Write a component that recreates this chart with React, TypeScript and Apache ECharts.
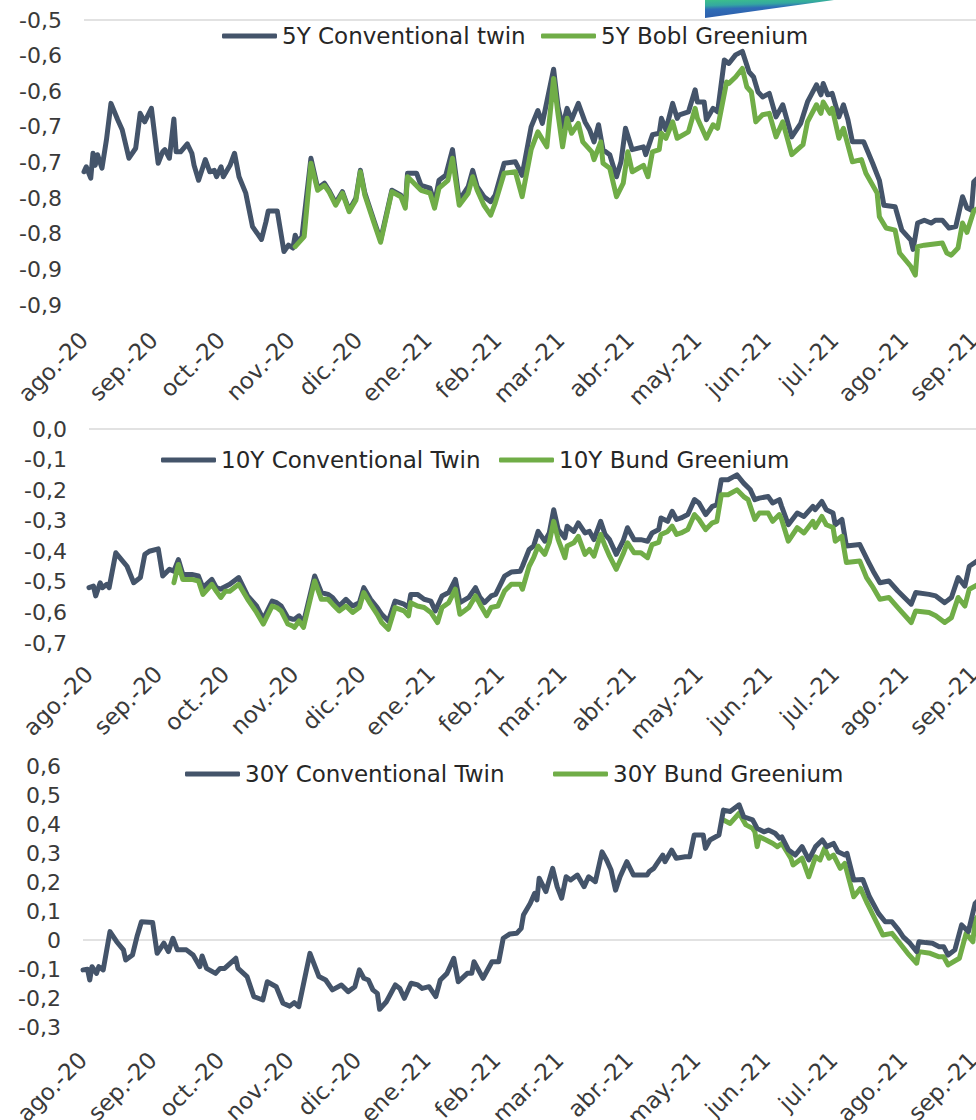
import { useEffect, useRef } from "react";
import * as echarts from "echarts";

// x = days since 1 Aug 2020
const monthStarts = [0, 31, 61, 92, 122, 153, 184, 212, 243, 273, 304, 334, 365, 396];
const monthLabels = ["ago.-20", "sep.-20", "oct.-20", "nov.-20", "dic.-20", "ene.-21", "feb.-21", "mar.-21", "abr.-21", "may.-21", "jun.-21", "jul.-21", "ago.-21", "sep.-21"];

const yLabels5 = ["-0,9", "-0,9", "-0,8", "-0,8", "-0,7", "-0,7", "-0,6", "-0,6", "-0,5"];
const yLabels10 = ["-0,7", "-0,6", "-0,5", "-0,4", "-0,3", "-0,2", "-0,1", "0,0"];
const yLabels30 = ["-0,3", "-0,2", "-0,1", "0", "0,1", "0,2", "0,3", "0,4", "0,5", "0,6"];

const conv5: [number, number][] = [[0,-0.713],[1,-0.706],[3,-0.722],[4,-0.687],[5,-0.704],[6,-0.689],[8,-0.708],[10,-0.668],[12,-0.617],[15,-0.640],[17,-0.654],[20,-0.694],[23,-0.680],[25,-0.631],[27,-0.643],[30,-0.624],[33,-0.701],[35,-0.685],[36,-0.682],[38,-0.694],[40,-0.639],[41,-0.685],[43,-0.685],[46,-0.674],[48,-0.687],[49,-0.704],[51,-0.725],[54,-0.696],[56,-0.713],[58,-0.711],[59,-0.720],[61,-0.706],[62,-0.720],[65,-0.704],[67,-0.687],[69,-0.720],[72,-0.743],[75,-0.790],[79,-0.808],[81,-0.783],[82,-0.768],[86,-0.768],[89,-0.825],[91,-0.816],[93,-0.820],[94,-0.802],[95,-0.811],[97,-0.804],[101,-0.694],[104,-0.736],[107,-0.729],[109,-0.739],[112,-0.757],[115,-0.741],[118,-0.767],[121,-0.750],[123,-0.711],[125,-0.743],[129,-0.781],[132,-0.809],[137,-0.739],[141,-0.746],[143,-0.760],[144,-0.715],[148,-0.715],[150,-0.732],[154,-0.736],[156,-0.757],[158,-0.725],[161,-0.718],[164,-0.682],[167,-0.753],[171,-0.734],[173,-0.711],[175,-0.734],[178,-0.748],[181,-0.755],[183,-0.746],[187,-0.701],[192,-0.699],[195,-0.718],[199,-0.650],[202,-0.627],[204,-0.645],[209,-0.569],[211,-0.622],[213,-0.650],[215,-0.624],[217,-0.640],[220,-0.617],[223,-0.643],[225,-0.654],[227,-0.671],[229,-0.647],[231,-0.682],[234,-0.689],[237,-0.720],[239,-0.699],[241,-0.652],[244,-0.682],[249,-0.678],[250,-0.689],[253,-0.661],[256,-0.659],[257,-0.638],[259,-0.654],[262,-0.617],[264,-0.638],[265,-0.633],[269,-0.629],[272,-0.598],[273,-0.615],[276,-0.615],[277,-0.640],[280,-0.624],[282,-0.629],[285,-0.556],[287,-0.561],[290,-0.549],[293,-0.544],[296,-0.573],[298,-0.580],[300,-0.601],[302,-0.608],[305,-0.603],[308,-0.636],[311,-0.619],[315,-0.664],[319,-0.645],[322,-0.615],[326,-0.591],[328,-0.605],[329,-0.589],[331,-0.605],[333,-0.603],[336,-0.636],[338,-0.619],[340,-0.640],[342,-0.671],[347,-0.671],[351,-0.701],[354,-0.725],[356,-0.760],[361,-0.762],[364,-0.795],[368,-0.809],[369,-0.822],[371,-0.785],[374,-0.781],[377,-0.785],[379,-0.781],[382,-0.781],[385,-0.792],[388,-0.790],[391,-0.748],[393,-0.764],[395,-0.767],[396,-0.727],[400,-0.715]];

const green5: [number, number][] = [[94,-0.818],[98,-0.804],[101,-0.701],[104,-0.739],[107,-0.732],[109,-0.741],[112,-0.760],[115,-0.743],[118,-0.769],[121,-0.753],[123,-0.713],[125,-0.746],[129,-0.784],[132,-0.812],[137,-0.741],[141,-0.748],[143,-0.764],[144,-0.720],[150,-0.739],[154,-0.743],[156,-0.764],[158,-0.736],[162,-0.725],[164,-0.694],[167,-0.760],[171,-0.743],[173,-0.720],[175,-0.739],[178,-0.760],[181,-0.774],[183,-0.757],[187,-0.715],[192,-0.713],[195,-0.748],[199,-0.682],[202,-0.657],[206,-0.678],[209,-0.582],[211,-0.633],[213,-0.678],[215,-0.638],[217,-0.659],[220,-0.645],[222,-0.671],[226,-0.685],[227,-0.696],[230,-0.671],[231,-0.701],[234,-0.708],[237,-0.748],[240,-0.729],[242,-0.685],[244,-0.713],[249,-0.704],[251,-0.720],[253,-0.685],[256,-0.682],[257,-0.659],[259,-0.666],[262,-0.643],[264,-0.666],[269,-0.657],[272,-0.624],[273,-0.638],[277,-0.666],[280,-0.647],[282,-0.652],[286,-0.587],[287,-0.589],[290,-0.580],[293,-0.568],[295,-0.594],[297,-0.601],[299,-0.643],[302,-0.633],[305,-0.631],[308,-0.664],[311,-0.643],[315,-0.689],[320,-0.675],[322,-0.643],[326,-0.619],[328,-0.631],[329,-0.615],[332,-0.631],[333,-0.624],[336,-0.666],[338,-0.652],[342,-0.699],[346,-0.696],[348,-0.715],[353,-0.743],[354,-0.776],[357,-0.792],[361,-0.795],[363,-0.827],[368,-0.846],[370,-0.858],[371,-0.818],[374,-0.816],[382,-0.813],[384,-0.827],[386,-0.830],[389,-0.820],[391,-0.785],[393,-0.798],[396,-0.768],[400,-0.760]];

const conv10: [number, number][] = [[0,-0.519],[2,-0.514],[3,-0.546],[5,-0.503],[6,-0.519],[8,-0.508],[9,-0.519],[12,-0.405],[17,-0.449],[20,-0.503],[23,-0.486],[25,-0.410],[27,-0.400],[31,-0.392],[33,-0.481],[36,-0.459],[38,-0.465],[40,-0.427],[42,-0.476],[46,-0.476],[49,-0.481],[51,-0.519],[55,-0.492],[57,-0.519],[59,-0.524],[60,-0.519],[63,-0.508],[67,-0.486],[71,-0.546],[75,-0.579],[78,-0.622],[82,-0.563],[84,-0.568],[86,-0.579],[89,-0.617],[91,-0.622],[92,-0.622],[94,-0.611],[96,-0.633],[101,-0.481],[104,-0.535],[107,-0.541],[109,-0.551],[112,-0.579],[115,-0.557],[118,-0.579],[121,-0.568],[123,-0.519],[126,-0.557],[129,-0.584],[131,-0.606],[134,-0.628],[137,-0.563],[141,-0.573],[143,-0.584],[144,-0.541],[147,-0.541],[150,-0.557],[153,-0.563],[155,-0.595],[158,-0.546],[161,-0.535],[164,-0.492],[166,-0.568],[170,-0.551],[173,-0.519],[175,-0.551],[177,-0.568],[180,-0.546],[182,-0.541],[186,-0.481],[189,-0.468],[193,-0.465],[194,-0.449],[197,-0.394],[199,-0.383],[201,-0.335],[204,-0.367],[206,-0.340],[208,-0.264],[210,-0.329],[213,-0.356],[214,-0.318],[217,-0.335],[219,-0.307],[222,-0.340],[224,-0.335],[226,-0.362],[229,-0.302],[231,-0.345],[233,-0.362],[236,-0.410],[239,-0.367],[241,-0.323],[244,-0.362],[247,-0.362],[250,-0.367],[252,-0.340],[255,-0.329],[256,-0.291],[259,-0.302],[261,-0.269],[263,-0.296],[265,-0.291],[268,-0.280],[271,-0.231],[273,-0.242],[276,-0.280],[279,-0.253],[281,-0.248],[283,-0.166],[286,-0.166],[290,-0.150],[293,-0.177],[296,-0.199],[298,-0.231],[300,-0.226],[304,-0.221],[306,-0.242],[309,-0.231],[310,-0.253],[313,-0.313],[317,-0.275],[320,-0.286],[324,-0.253],[325,-0.264],[328,-0.237],[330,-0.264],[333,-0.275],[334,-0.313],[337,-0.296],[339,-0.383],[345,-0.378],[349,-0.437],[351,-0.465],[354,-0.503],[358,-0.497],[362,-0.530],[368,-0.573],[370,-0.535],[376,-0.541],[379,-0.546],[383,-0.568],[386,-0.551],[389,-0.486],[392,-0.514],[394,-0.449],[400,-0.420]];

const green10: [number, number][] = [[38,-0.503],[40,-0.443],[42,-0.492],[46,-0.492],[49,-0.497],[51,-0.541],[55,-0.508],[57,-0.531],[59,-0.551],[61,-0.531],[63,-0.531],[67,-0.508],[71,-0.557],[75,-0.600],[78,-0.638],[82,-0.579],[84,-0.584],[86,-0.595],[89,-0.638],[91,-0.644],[92,-0.649],[94,-0.628],[96,-0.649],[101,-0.497],[104,-0.557],[107,-0.557],[109,-0.573],[112,-0.595],[115,-0.579],[118,-0.600],[121,-0.584],[123,-0.535],[126,-0.573],[129,-0.606],[131,-0.633],[134,-0.655],[137,-0.584],[141,-0.595],[143,-0.611],[144,-0.568],[147,-0.579],[150,-0.584],[153,-0.600],[156,-0.633],[158,-0.584],[161,-0.568],[164,-0.524],[166,-0.606],[170,-0.584],[173,-0.546],[175,-0.573],[178,-0.611],[180,-0.584],[183,-0.579],[186,-0.530],[189,-0.508],[193,-0.508],[194,-0.524],[197,-0.449],[199,-0.421],[201,-0.383],[204,-0.410],[206,-0.371],[208,-0.302],[210,-0.362],[213,-0.421],[214,-0.383],[217,-0.372],[219,-0.351],[222,-0.410],[224,-0.394],[226,-0.416],[229,-0.345],[231,-0.383],[233,-0.416],[236,-0.459],[239,-0.410],[241,-0.372],[244,-0.405],[247,-0.405],[250,-0.421],[252,-0.378],[255,-0.371],[256,-0.345],[259,-0.335],[261,-0.318],[263,-0.345],[265,-0.340],[268,-0.329],[271,-0.280],[273,-0.296],[276,-0.329],[279,-0.307],[281,-0.302],[283,-0.215],[286,-0.215],[290,-0.199],[293,-0.221],[295,-0.231],[298,-0.296],[300,-0.275],[304,-0.275],[306,-0.302],[309,-0.280],[310,-0.296],[313,-0.367],[317,-0.323],[320,-0.340],[324,-0.302],[325,-0.322],[328,-0.286],[330,-0.313],[333,-0.322],[334,-0.367],[337,-0.351],[339,-0.437],[345,-0.432],[348,-0.486],[351,-0.519],[354,-0.557],[358,-0.551],[362,-0.584],[368,-0.633],[370,-0.595],[376,-0.600],[379,-0.611],[383,-0.633],[386,-0.617],[389,-0.551],[392,-0.579],[394,-0.524],[400,-0.500]];

const conv30: [number, number][] = [[0,-0.103],[2,-0.101],[3,-0.138],[4,-0.092],[6,-0.115],[7,-0.092],[9,-0.103],[12,0.029],[15,-0.006],[18,-0.034],[19,-0.069],[22,-0.052],[24,0.011],[26,0.063],[31,0.060],[33,-0.046],[36,-0.011],[38,-0.040],[40,0.006],[42,-0.034],[46,-0.034],[49,-0.052],[52,-0.092],[53,-0.055],[55,-0.098],[59,-0.115],[61,-0.098],[63,-0.098],[68,-0.063],[69,-0.098],[73,-0.126],[76,-0.195],[80,-0.207],[82,-0.144],[86,-0.161],[89,-0.218],[92,-0.228],[94,-0.216],[96,-0.230],[101,-0.046],[105,-0.126],[108,-0.138],[111,-0.172],[115,-0.155],[118,-0.178],[121,-0.161],[123,-0.103],[125,-0.132],[127,-0.138],[129,-0.172],[131,-0.184],[132,-0.239],[135,-0.213],[139,-0.155],[141,-0.167],[143,-0.201],[146,-0.149],[149,-0.155],[151,-0.167],[154,-0.161],[157,-0.195],[159,-0.138],[162,-0.115],[165,-0.063],[167,-0.144],[171,-0.115],[173,-0.115],[174,-0.075],[178,-0.132],[182,-0.075],[185,-0.075],[187,0.006],[190,0.021],[193,0.023],[195,0.040],[196,0.086],[199,0.126],[201,0.161],[202,0.138],[203,0.213],[206,0.167],[209,0.247],[211,0.184],[213,0.144],[215,0.218],[217,0.207],[220,0.224],[223,0.184],[225,0.218],[228,0.201],[231,0.304],[233,0.276],[235,0.241],[237,0.172],[239,0.218],[242,0.270],[245,0.224],[248,0.224],[251,0.224],[252,0.236],[254,0.247],[256,0.270],[258,0.293],[259,0.270],[262,0.310],[264,0.282],[268,0.287],[270,0.287],[272,0.362],[276,0.362],[277,0.316],[279,0.345],[283,0.362],[285,0.448],[288,0.443],[292,0.466],[294,0.425],[298,0.414],[300,0.385],[303,0.373],[305,0.379],[308,0.368],[310,0.351],[311,0.356],[314,0.310],[317,0.293],[320,0.322],[323,0.276],[326,0.322],[329,0.345],[331,0.322],[334,0.333],[336,0.304],[339,0.293],[340,0.299],[343,0.207],[347,0.209],[350,0.149],[354,0.092],[357,0.063],[360,0.063],[363,0.034],[365,0.011],[368,-0.011],[371,-0.040],[372,-0.006],[375,-0.009],[378,-0.011],[381,-0.023],[383,-0.023],[385,-0.052],[388,-0.034],[391,0.052],[394,0.029],[397,0.126],[400,0.150]];

const green30: [number, number][] = [[285,0.414],[288,0.402],[292,0.437],[295,0.397],[298,0.385],[299,0.373],[300,0.322],[301,0.356],[304,0.345],[307,0.333],[309,0.322],[311,0.333],[315,0.282],[316,0.259],[320,0.282],[323,0.218],[326,0.287],[328,0.276],[330,0.316],[332,0.282],[334,0.293],[337,0.247],[339,0.264],[343,0.149],[346,0.178],[349,0.126],[353,0.063],[356,0.017],[360,0.023],[363,-0.006],[367,-0.046],[371,-0.080],[372,-0.040],[377,-0.046],[381,-0.058],[383,-0.058],[385,-0.086],[390,-0.063],[393,0.023],[396,-0.006],[397,0.069],[400,0.100]];

const BLUE = "#44546A";
const GREEN = "#70AD47";
const TEXT = "#3a3a3a";
const FONT = "DejaVu Sans";

export default function App() {
  const ref = useRef<HTMLDivElement>(null);
  useEffect(() => {
    if (!ref.current) return;
    const chart = echarts.init(ref.current, undefined, { renderer: "svg" });

    const panels = [
      { left: 84, top: 20, width: 892, height: 285, xmax: 397, min: -0.9, max: -0.5, interval: 0.05, labels: yLabels5, grayIndex: 8, margin: 31 },
      { left: 89, top: 429, width: 887, height: 214, xmax: 397, min: -0.7, max: 0, interval: 0.1, labels: yLabels10, grayIndex: 7, margin: 27 },
      { left: 83, top: 766, width: 893, height: 261, xmax: 397.4, min: -0.3, max: 0.6, interval: 0.1, labels: yLabels30, grayIndex: 3, margin: 29 },
    ];

    const grid = panels.map((p) => ({
      left: p.left,
      top: p.top,
      width: p.width,
      height: p.height,
      containLabel: false,
      outerBoundsMode: "none",
    }));
    const xAxis = panels.map((p, i) => ({
      type: "value",
      gridIndex: i,
      min: 0,
      max: p.xmax,
      axisLine: { show: false },
      axisTick: { show: false },
      splitLine: { show: false },
      axisLabel: {
        customValues: monthStarts,
        rotate: 45,
        margin: p.margin,
        fontFamily: FONT,
        fontSize: 23,
        color: TEXT,
        formatter: (v: number) => {
          const k = monthStarts.indexOf(Math.round(v));
          return k >= 0 ? monthLabels[k] : "";
        },
      },
    }));
    const yAxis = panels.map((p, i) => {
      const n = p.labels.length;
      const colors = Array.from({ length: n }, (_, k) => (k === p.grayIndex ? "#d9d9d9" : "rgba(0,0,0,0)"));
      return {
        type: "value",
        gridIndex: i,
        min: p.min,
        max: p.max,
        interval: p.interval,
        axisLine: { show: false },
        axisTick: { show: false },
        splitLine: { show: true, lineStyle: { color: colors, width: 1.5 } },
        axisLabel: {
          margin: 22,
          fontFamily: FONT,
          fontSize: 22,
          color: TEXT,
          formatter: (v: number) => {
            const k = Math.round((v - p.min) / p.interval);
            return p.labels[k] ?? "";
          },
        },
      };
    });

    const mk = (name: string, data: [number, number][], color: string, idx: number, z: number) => ({
      type: "line",
      name,
      data,
      xAxisIndex: idx,
      yAxisIndex: idx,
      showSymbol: false,
      symbol: "none",
      z,
      silent: true,
      lineStyle: { width: 5, color, cap: "round", join: "round" },
      itemStyle: { color },
    });

    const legendCommon = {
      orient: "horizontal",
      itemWidth: 55,
      itemHeight: 5,
      icon: "roundRect",
      padding: 0,
      selectedMode: false,
      textStyle: { fontFamily: FONT, fontSize: 23, color: "#262626", lineHeight: 24 },
    };

    chart.setOption({
      animation: false,
      backgroundColor: "#ffffff",
      grid,
      xAxis,
      yAxis,
      legend: [
        { ...legendCommon, data: ["5Y Conventional twin"], left: 222, top: 24 },
        { ...legendCommon, data: ["5Y Bobl Greenium"], left: 541, top: 24 },
        { ...legendCommon, data: ["10Y Conventional Twin"], left: 161, top: 448 },
        { ...legendCommon, data: ["10Y Bund Greenium"], left: 499, top: 448 },
        { ...legendCommon, data: ["30Y Conventional Twin"], left: 185, top: 762 },
        { ...legendCommon, data: ["30Y Bund Greenium"], left: 553, top: 762 },
      ],
      graphic: [
        {
          type: "polygon",
          silent: true,
          shape: { points: [[705, 0], [834, 0], [705, 18]] },
          style: {
            fill: new echarts.graphic.LinearGradient(0, 0, 0.25, 1, [
              { offset: 0, color: "#3cc08a" },
              { offset: 0.3, color: "#34a8a0" },
              { offset: 0.5, color: "#2f6cb6" },
              { offset: 1, color: "#2c5dab" },
            ]),
          },
        },
      ],
      series: [
        mk("5Y Conventional twin", conv5, BLUE, 0, 2),
        mk("5Y Bobl Greenium", green5, GREEN, 0, 3),
        mk("10Y Conventional Twin", conv10, BLUE, 1, 2),
        mk("10Y Bund Greenium", green10, GREEN, 1, 3),
        mk("30Y Conventional Twin", conv30, BLUE, 2, 3),
        mk("30Y Bund Greenium", green30, GREEN, 2, 2),
      ],
    });
    return () => chart.dispose();
  }, []);
  return (
    <div
      ref={ref}
      style={{ position: "absolute", left: 0, top: 0, width: 976, height: 1120, background: "#ffffff" }}
    />
  );
}
